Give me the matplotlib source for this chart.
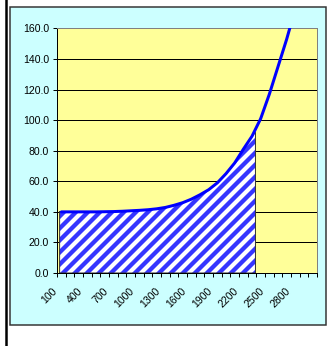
import matplotlib
matplotlib.use('Agg')
import matplotlib.pyplot as plt
import matplotlib.transforms as mtransforms
from matplotlib.patches import Rectangle
from matplotlib.lines import Line2D

# categories and series values
cats = [100, 200, 300, 400, 500, 600, 700, 800, 900, 1000,
        1100, 1200, 1300, 1400, 1500, 1600, 1700, 1800, 1900, 2000,
        2100, 2200, 2300, 2400, 2500, 2600, 2700, 2800, 2900, 3000]
line_vals = [40.0, 40.0, 40.0, 40.0, 40.0, 40.1, 40.2, 40.4, 40.7, 41.0,
             41.4, 42.0, 42.9, 44.3, 46.0, 48.3, 51.2, 54.5, 59.0, 65.0,
             72.0, 81.0, 89.5, 101.0, 117.0, 135.0, 153.0, 173.0, 195.0, 220.0]

# shaded part (stops a bit past 2300)
area_x = [80] + cats[:23] + [2340]
area_vals = [40.0] + line_vals[:23] + [92.0]

x_labels = ['100', '400', '700', '1000', '1300', '1600', '1900', '2200', '2500', '2800']
y_ticks = [0, 20, 40, 60, 80, 100, 120, 140, 160]

plt.rcParams['font.family'] = ['Liberation Sans', 'DejaVu Sans']
plt.rcParams['hatch.linewidth'] = 4.3

W, H = 328, 346
fig = plt.figure(figsize=(W / 72, H / 72), dpi=72)
fig.patch.set_facecolor('white')

# chart area box and the black bar on the left
fig.add_artist(Rectangle((10 / W, 1 - 325 / H), 316 / W, 318 / H, transform=fig.transFigure,
                         facecolor='#CCFFFF', edgecolor='#333333', lw=1.5, zorder=-1))
fig.add_artist(Line2D([5.5 / W, 5.5 / W], [0, 1], transform=fig.transFigure,
                      color='black', lw=2.5, zorder=-1))

ax = fig.add_axes([57 / W, 1 - 273 / H, 260 / W, 244.5 / H])
ax.set_facecolor('#FFFF99')
ax.set_axisbelow(True)
ax.yaxis.grid(True, color='black', lw=1)

# hatched area
ax.fill_between(area_x, 0, area_vals, facecolor='white', edgecolor='#3535ff',
                hatch='//', linewidth=0, zorder=2)
ax.plot(area_x + [area_x[-1], area_x[0], area_x[0]], area_vals + [0, 0, area_vals[0]],
        color='#333333', lw=1, zorder=3)

# the curve
ax.plot(cats, line_vals, color='#0000FF', lw=3, zorder=5, solid_capstyle='round')

ax.set_xlim(cats[0] - 50, cats[-1] + 50)
ax.set_ylim(y_ticks[0], y_ticks[-1])

ax.set_yticks(y_ticks)
ax.set_yticklabels(['%.1f' % v for v in y_ticks])
ax.tick_params(axis='y', length=4, width=1, pad=4, labelsize=10.5, direction='out')

bounds = [c - 50 for c in cats] + [cats[-1] + 50]
ax.set_xticks(bounds)
ax.set_xticklabels([''] * len(bounds))
ax.set_xticks([int(s) for s in x_labels], labels=x_labels, minor=True)
ax.tick_params(axis='x', which='major', length=4, width=1, direction='out')
ax.tick_params(axis='x', which='minor', length=0, pad=13, labelsize=10.5)
offset = mtransforms.ScaledTranslation(-10 / 72, 0, fig.dpi_scale_trans)
for lab in ax.get_xticklabels(minor=True):
    lab.set_rotation(45)
    lab.set_ha('right')
    lab.set_va('top')
    lab.set_rotation_mode('anchor')
    lab.set_transform(lab.get_transform() + offset)

for s in ['left', 'bottom']:
    ax.spines[s].set_color('black')
    ax.spines[s].set_linewidth(1)
for s in ['top', 'right']:
    ax.spines[s].set_color('#808080')
    ax.spines[s].set_linewidth(1)

fig.savefig('out.png', dpi=72)
